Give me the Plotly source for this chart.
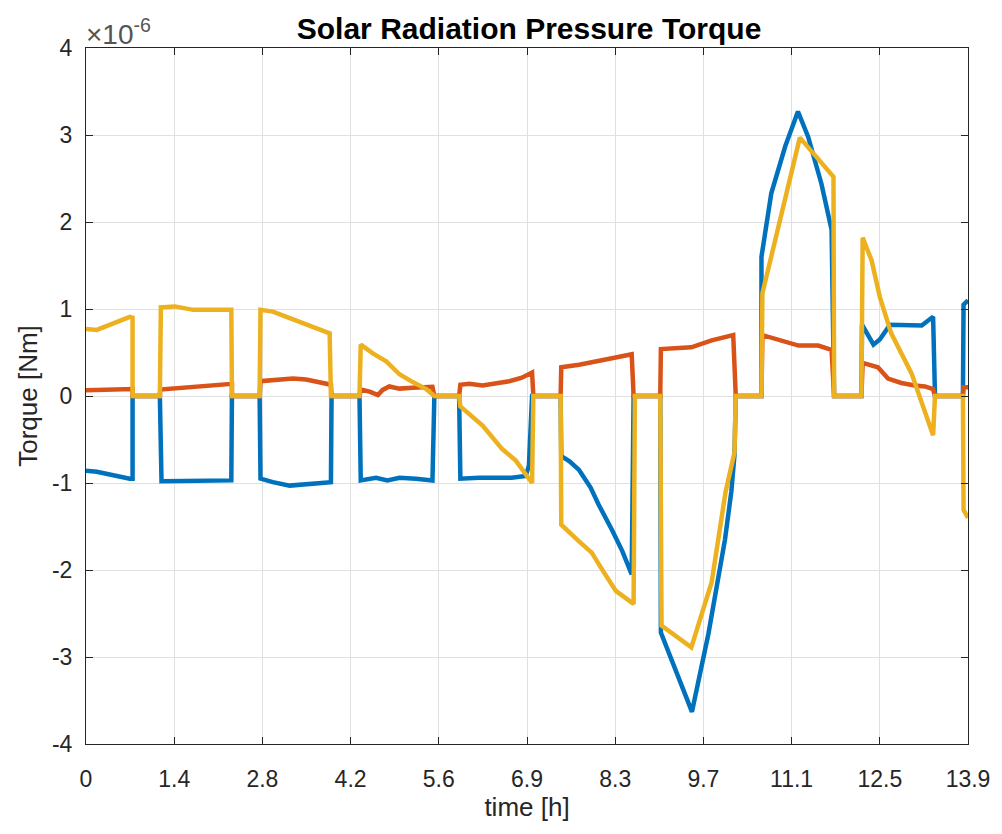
import plotly.graph_objects as go

# time [h] and torque [x1e-6 Nm]
t_blue = [0.0, 0.17, 0.69, 0.734, 0.734, 1.164, 1.19, 1.68, 2.29, 2.30, 2.736, 2.75, 2.945, 3.21, 3.57, 3.86, 3.87,
          4.31, 4.33, 4.57, 4.75, 4.94, 5.20, 5.46, 5.49, 5.88, 5.90, 6.195, 6.71, 6.93, 6.98, 7.03,
          7.48, 7.49, 7.62, 7.77, 7.95, 8.08, 8.29, 8.45, 8.60, 8.63, 9.05, 9.06, 9.55, 9.81, 10.07, 10.17, 10.22, 10.24,
          10.645, 10.645, 10.80, 11.02, 11.22, 11.38, 11.59, 11.75, 11.79, 12.22, 12.23, 12.41, 12.51, 12.67,
          13.17, 13.35, 13.38, 13.82, 13.83, 13.9]
v_blue = [-0.86, -0.87, -0.95, -0.95, 0.0, 0.0, -0.98, -0.98, -0.97, 0.0, 0.0, -0.95, -0.99, -1.03, -1.01, -0.99, 0.0,
          0.0, -0.97, -0.94, -0.97, -0.94, -0.95, -0.97, 0.0, 0.0, -0.95, -0.94, -0.94, -0.92, -0.80, 0.0,
          0.0, -0.69, -0.75, -0.85, -1.05, -1.25, -1.54, -1.78, -2.05, 0.0, 0.0, -2.72, -3.63, -2.73, -1.65, -1.10, -0.68, 0.0,
          0.0, 1.60, 2.33, 2.87, 3.27, 2.98, 2.44, 1.91, 0.0, 0.0, 0.82, 0.59, 0.65, 0.82,
          0.81, 0.91, 0.0, 0.0, 1.05, 1.10]

t_orange = [0.0, 0.69, 0.734, 0.734, 1.164, 1.17, 1.48, 1.79, 2.26, 2.30, 2.30, 2.736, 2.75, 3.0, 3.26, 3.47, 3.68, 3.86, 3.87,
            4.31, 4.33, 4.47, 4.60, 4.675, 4.78, 4.94, 5.15, 5.46, 5.49, 5.88, 5.90, 6.04, 6.25, 6.67, 6.87, 7.03, 7.05,
            7.48, 7.49, 7.77, 8.19, 8.60, 8.63, 9.05, 9.06, 9.54, 9.86, 10.20, 10.24,
            10.645, 10.66, 10.91, 11.23, 11.54, 11.75, 11.79, 12.22, 12.24, 12.48, 12.64, 12.85, 13.06, 13.22, 13.35, 13.38,
            13.82, 13.83, 13.9]
v_orange = [0.065, 0.08, 0.08, 0.0, 0.0, 0.075, 0.095, 0.12, 0.14, 0.14, 0.0, 0.0, 0.17, 0.19, 0.20, 0.19, 0.16, 0.13, 0.0,
            0.0, 0.075, 0.05, 0.01, 0.07, 0.11, 0.085, 0.095, 0.105, 0.0, 0.0, 0.13, 0.14, 0.12, 0.17, 0.21, 0.27, 0.0,
            0.0, 0.33, 0.36, 0.42, 0.48, 0.0, 0.0, 0.54, 0.56, 0.64, 0.70, 0.0,
            0.0, 0.70, 0.65, 0.58, 0.58, 0.53, 0.0, 0.0, 0.38, 0.33, 0.20, 0.15, 0.12, 0.11, 0.08, 0.0,
            0.0, 0.10, 0.10]

t_yellow = [0.0, 0.17, 0.69, 0.734, 0.734, 1.164, 1.18, 1.40, 1.69, 2.29, 2.30, 2.736, 2.75, 2.945, 3.16, 3.84, 3.86,
            4.31, 4.33, 4.52, 4.73, 4.94, 5.15, 5.36, 5.49, 5.88, 5.90, 6.25, 6.56, 6.77, 7.03, 7.05,
            7.48, 7.49, 7.77, 7.97, 8.13, 8.35, 8.63, 8.65, 9.05, 9.07, 9.54, 9.86, 10.08, 10.22, 10.24,
            10.645, 10.66, 11.25, 11.78, 11.79, 12.22, 12.24, 12.38, 12.51, 12.69, 13.01, 13.35, 13.38,
            13.82, 13.83, 13.9]
v_yellow = [0.77, 0.76, 0.91, 0.90, 0.0, 0.0, 1.02, 1.03, 0.99, 0.99, 0.0, 0.0, 0.99, 0.97, 0.91, 0.72, 0.0,
            0.0, 0.59, 0.49, 0.40, 0.25, 0.16, 0.08, 0.0, 0.0, -0.12, -0.34, -0.61, -0.74, -1.0, 0.0,
            0.0, -1.48, -1.67, -1.80, -1.99, -2.24, -2.39, 0.0, 0.0, -2.64, -2.89, -2.14, -1.10, -0.65, 0.0,
            0.0, 1.18, 2.97, 2.52, 0.0, 0.0, 1.82, 1.56, 1.14, 0.72, 0.26, -0.45, 0.0,
            0.0, -1.31, -1.40]

x_tick_vals = [0.0, 1.39, 2.78, 4.17, 5.56, 6.95, 8.34, 9.73, 11.12, 12.51, 13.9]
x_tick_text = ["0", "1.4", "2.8", "4.2", "5.6", "6.9", "8.3", "9.7", "11.1", "12.5", "13.9"]
y_tick_vals = [-4, -3, -2, -1, 0, 1, 2, 3, 4]

FONT = "Liberation Sans, Arial, Helvetica, sans-serif"
AX = "#262626"

fig = go.Figure()
for t, v, c in [(t_blue, v_blue, "#0072BD"), (t_orange, v_orange, "#D95319"), (t_yellow, v_yellow, "#EDB120")]:
    fig.add_trace(go.Scatter(x=t, y=v, mode="lines", line=dict(color=c, width=4.5), showlegend=False))

axis_common = dict(showline=True, linecolor=AX, linewidth=1, mirror="ticks", ticks="inside", ticklen=7,
                   tickcolor=AX, showgrid=True, gridcolor="#e0e0e0", gridwidth=1, zeroline=False,
                   tickfont=dict(family=FONT, size=23, color=AX))

fig.update_xaxes(range=[0, 13.9], tickvals=x_tick_vals, ticktext=x_tick_text, ticklabelstandoff=14,
                 title=dict(text="time [h]", font=dict(family=FONT, size=26, color=AX), standoff=4),
                 **axis_common)
fig.update_yaxes(range=[-4, 4], tickvals=y_tick_vals, ticktext=[str(v) for v in y_tick_vals], ticklabelstandoff=8,
                 title=dict(text="Torque [Nm]", font=dict(family=FONT, size=26, color=AX), standoff=6),
                 **axis_common)

fig.add_annotation(text="×10<sup>-6</sup>", xref="paper", yref="paper", x=0, y=1, xanchor="left", yanchor="bottom",
                   showarrow=False, font=dict(family=FONT, size=28, color="#555555"), yshift=-4, xshift=-2)

fig.update_layout(
    width=1002, height=834,
    margin=dict(l=86, r=32, t=48, b=90),
    paper_bgcolor="white", plot_bgcolor="white",
    title=dict(text="<b>Solar Radiation Pressure Torque</b>", x=0.528, xanchor="center", y=0.966, yanchor="middle",
               font=dict(family=FONT, size=30, color="#000000")),
)

fig.write_html("out.html")
